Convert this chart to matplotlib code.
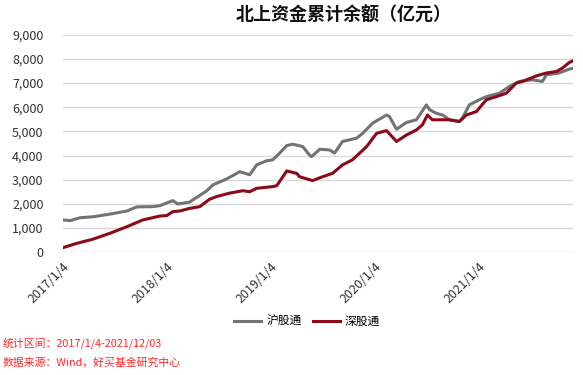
import numpy as np
import pandas as pd
import matplotlib
matplotlib.use('Agg')
import matplotlib.pyplot as plt
from matplotlib.ticker import FuncFormatter

plt.rcParams['font.family'] = ['Noto Sans CJK SC', 'DejaVu Sans']

# 沪股通 累计余额（亿元）
sh_dates = ['2017-01-04', '2017-01-29', '2017-03-05', '2017-04-19', '2017-06-18',
            '2017-08-17', '2017-09-21', '2017-11-16', '2017-12-11', '2018-01-25',
            '2018-02-12', '2018-03-26', '2018-04-06', '2018-05-25', '2018-06-15',
            '2018-08-03', '2018-09-18', '2018-10-12', '2018-10-23', '2018-11-16',
            '2018-12-21', '2019-01-12', '2019-02-05', '2019-03-02', '2019-03-23',
            '2019-04-27', '2019-05-21', '2019-05-28', '2019-06-26', '2019-07-31',
            '2019-08-17', '2019-09-14', '2019-11-03', '2019-11-24', '2019-12-29',
            '2020-02-16', '2020-02-26', '2020-03-22', '2020-04-26', '2020-05-31',
            '2020-07-05', '2020-07-16', '2020-08-09', '2020-08-31', '2020-09-24',
            '2020-10-29', '2020-11-09', '2020-12-03', '2021-01-07', '2021-02-01',
            '2021-03-19', '2021-04-23', '2021-05-28', '2021-07-13', '2021-08-17',
            '2021-08-31', '2021-10-15', '2021-11-19', '2021-12-03']
sh_values = [1330, 1300, 1420, 1460, 1570,
             1700, 1870, 1880, 1920, 2130,
             1990, 2070, 2160, 2540, 2780,
             3030, 3330, 3240, 3200, 3610,
             3780, 3820, 4100, 4410, 4470,
             4370, 4020, 3950, 4260, 4230,
             4100, 4580, 4720, 4920, 5340,
             5680, 5620, 5090, 5370, 5480,
             6100, 5900, 5750, 5680, 5480,
             5410, 5550, 6100, 6310, 6440,
             6580, 6860, 7070, 7140, 7070,
             7340, 7420, 7580, 7620]

# 深股通 累计余额（亿元）
sz_dates = ['2017-01-04', '2017-02-22', '2017-04-19', '2017-06-18', '2017-08-17',
            '2017-10-12', '2017-12-11', '2018-01-04', '2018-01-25', '2018-02-19',
            '2018-03-26', '2018-04-30', '2018-06-04', '2018-06-29', '2018-08-13',
            '2018-09-28', '2018-10-23', '2018-11-16', '2019-01-12', '2019-01-26',
            '2019-03-02', '2019-03-12', '2019-04-06', '2019-04-16', '2019-06-01',
            '2019-07-06', '2019-08-10', '2019-09-14', '2019-10-19', '2019-12-08',
            '2020-01-12', '2020-02-16', '2020-03-22', '2020-04-26', '2020-05-31',
            '2020-06-21', '2020-07-09', '2020-07-26', '2020-08-20', '2020-09-24',
            '2020-10-29', '2020-11-23', '2020-12-28', '2021-02-01', '2021-03-08',
            '2021-04-12', '2021-05-17', '2021-06-08', '2021-07-27', '2021-08-31',
            '2021-10-05', '2021-10-26', '2021-11-19', '2021-12-03']
sz_values = [180, 360, 530, 775, 1050,
             1330, 1490, 1510, 1670, 1700,
             1810, 1880, 2190, 2300, 2440,
             2540, 2500, 2640, 2710, 2750,
             3360, 3330, 3260, 3120, 2960,
             3120, 3260, 3610, 3820, 4370,
             4920, 5030, 4580, 4850, 5060,
             5270, 5680, 5480, 5480, 5480,
             5410, 5680, 5820, 6310, 6440,
             6580, 7000, 7070, 7300, 7420,
             7480, 7620, 7850, 7930]

tick_dates = ['2017-01-04', '2018-01-04', '2019-01-04', '2020-01-04', '2021-01-04']
tick_labels = ['2017/1/4', '2018/1/4', '2019/1/4', '2020/1/4', '2021/1/4']

fig = plt.figure(figsize=(5.83, 3.75), dpi=100)
ax = fig.add_axes([0.108, 0.328, 0.875, 0.579])

ax.plot(pd.to_datetime(sh_dates), sh_values, color='#737373', linewidth=2.2, label='沪股通')
ax.plot(pd.to_datetime(sz_dates), sz_values, color='#8b0a1a', linewidth=2.2, label='深股通')

ax.set_ylim(0, 9000)
ax.set_yticks(np.arange(0, 9001, 1000))
ax.yaxis.set_major_formatter(FuncFormatter(lambda v, p: '{:,.0f}'.format(v)))
ax.set_xlim(pd.Timestamp('2017-01-04'), pd.Timestamp('2021-12-03'))
ax.set_xticks(pd.to_datetime(tick_dates))
ax.set_xticklabels(tick_labels, rotation=45, ha='right', rotation_mode='anchor')

# 网格线和坐标轴
ax.grid(axis='y', color='#d9d9d9', linewidth=1.0)
ax.set_axisbelow(True)
for s in ax.spines.values():
    s.set_visible(False)
ax.tick_params(axis='both', length=0, labelsize=9, colors='#333333')
ax.tick_params(axis='y', pad=14)
ax.tick_params(axis='x', pad=6)

fig.text(0.59, 0.96, '北上资金累计余额（亿元）', ha='center', va='center',
         fontsize=13, fontweight='bold', color='#111111')

fig.legend(loc='center', bbox_to_anchor=(0.527, 0.143), ncol=2, frameon=False,
           fontsize=8.5, handlelength=2.3, handletextpad=0.4, columnspacing=1.0)

fig.text(0.005, 0.085, '统计区间：2017/1/4-2021/12/03', ha='left', va='center',
         fontsize=7.8, color='#ff2a2a')
fig.text(0.005, 0.033, '数据来源：Wind，好买基金研究中心', ha='left', va='center',
         fontsize=7.8, color='#ff2a2a')

fig.savefig('out.png', dpi=100)
